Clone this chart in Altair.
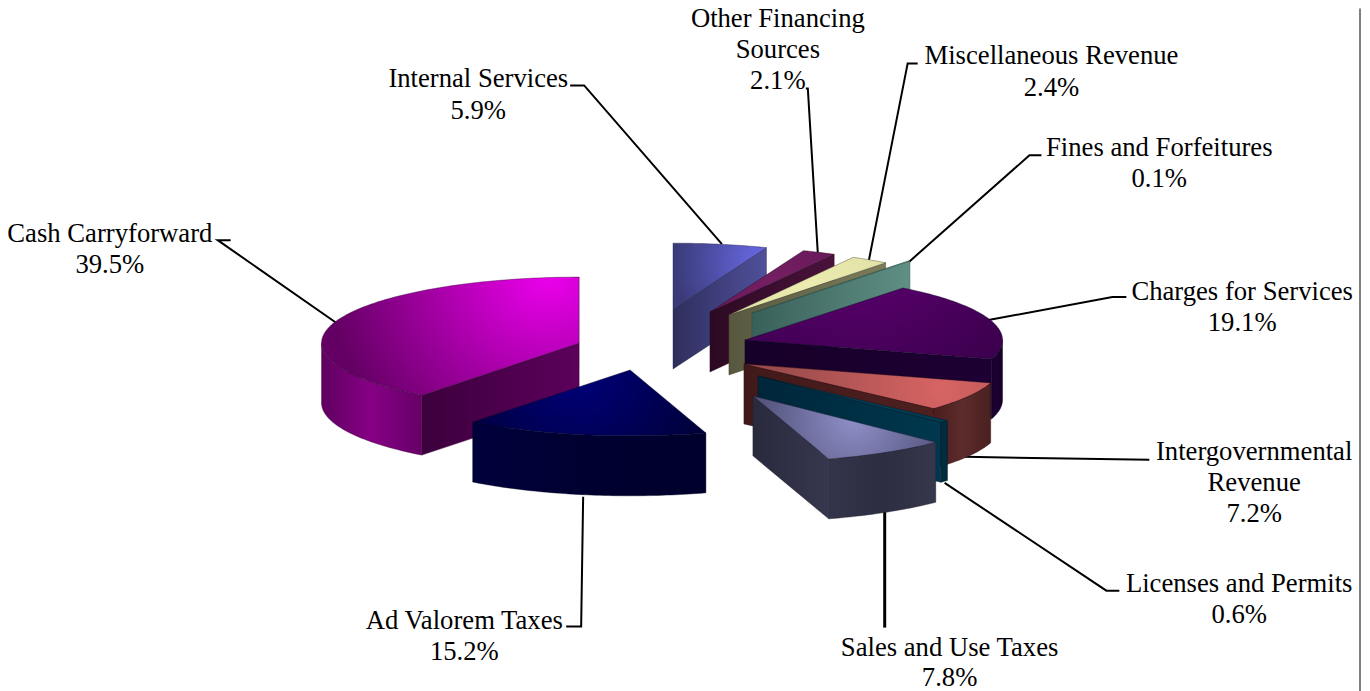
import altair as alt
import numpy as np
import pandas as pd

# ---- chart values -------------------------------------------------------
categories = ["Internal Services", "Other Financing Sources", "Miscellaneous Revenue",
              "Fines and Forfeitures", "Charges for Services", "Intergovernmental Revenue",
              "Licenses and Permits", "Sales and Use Taxes", "Ad Valorem Taxes", "Cash Carryforward"]
shares = [5.9, 2.1, 2.4, 0.1, 19.1, 7.2, 0.6, 7.8, 15.2, 39.5]

# ---- style / layout -----------------------------------------------------
W, H = 1356, 686
RX, RY, DEPTH = 258, 66, 60
apex = {
    "Internal Services": (673, 309), "Other Financing Sources": (710, 312),
    "Miscellaneous Revenue": (729, 315), "Fines and Forfeitures": (752, 313),
    "Charges for Services": (745, 340), "Intergovernmental Revenue": (744, 364),
    "Licenses and Permits": (758, 376), "Sales and Use Taxes": (753, 396),
    "Ad Valorem Taxes": (630, 370), "Cash Carryforward": (579, 343),
}
# top colours (inner, outer), cut-face colours (left, right), outer wall colours (left, mid, right)
colors = {
    "Internal Services": (("#6c6cec", "#3a3a78"), ("#2e2e5c", "#50509c"), None, "#20204a"),
    "Other Financing Sources": (("#741e62", "#5e1654"), ("#2c0a22", "#4a123c"), None, "#200818"),
    "Miscellaneous Revenue": (("#ecec" + "b0", "#d8d8a0"), ("#585840", "#7c7c5c"), None, "#404030"),
    "Fines and Forfeitures": (("#5a8c80", "#5a8c80"), ("#38605a", "#5f8f85"), None, "#2c4c44"),
    "Charges for Services": (("#620076", "#38004a"), ("#160028", "#1e0034"), ("#1a002c", "#1e0034", "#140024"), "#140024"),
    "Intergovernmental Revenue": (("#d86464", "#9c4c4c"), ("#42191a", "#4e2020"), ("#4a1c1c", "#5c2c2c", "#4a2020"), "#2c1010"),
    "Licenses and Permits": (("#00425c", "#003448"), ("#00263a", "#00384e"), ("#002c3e", "#002c3e", "#002c3e"), "#001824"),
    "Sales and Use Taxes": (("#8f8fc8", "#4a4a70"), ("#2a2a3e", "#36364e"), ("#33334a", "#2e2e42", "#36364c"), "#1c1c2c"),
    "Ad Valorem Taxes": (("#00007c", "#000038"), ("#000034", "#00003c"), ("#00003c", "#000030", "#00002c"), "#000020"),
    "Cash Carryforward": (("#ee00ee", "#640064"), ("#3c003c", "#5c005c"), ("#600060", "#860086", "#660066"), "#3c003c"),
}
# centre and reach of each top surface's highlight, as fractions of its box
top_focus = {
    "Internal Services": (1.0, 0.35, 1.0), "Cash Carryforward": (0.88, 0.25, 0.85),
    "Ad Valorem Taxes": (0.45, 0.35, 0.6), "Charges for Services": (0.45, 0.1, 0.8),
    "Intergovernmental Revenue": (0.8, 0.5, 0.65), "Sales and Use Taxes": (0.55, 0.45, 0.6),
}

label_lines = [
    ("Other Financing", 778, 27), ("Sources", 778, 58), ("2.1%", 778, 89),
    ("Miscellaneous Revenue", 1052, 64), ("2.4%", 1052, 96),
    ("Internal Services", 478, 87), ("5.9%", 478, 119),
    ("Fines and Forfeitures", 1160, 156), ("0.1%", 1160, 187),
    ("Cash Carryforward", 109, 242), ("39.5%", 109, 273),
    ("Charges for Services", 1243, 300), ("19.1%", 1243, 331),
    ("Intergovernmental", 1255, 460), ("Revenue", 1255, 491), ("7.2%", 1255, 522),
    ("Licenses and Permits", 1240, 592), ("0.6%", 1240, 623),
    ("Sales and Use Taxes", 950, 656), ("7.8%", 950, 686),
    ("Ad Valorem Taxes", 464, 629), ("15.2%", 464, 660),
]
leaders = [
    ("a", [(570, 85), (584, 85), (722, 244)], 2),
    ("b", [(806, 88), (808, 88), (818, 253)], 2),
    ("c", [(918, 63), (908, 63), (869, 261)], 2),
    ("d", [(1042, 155), (1030, 155), (909, 262)], 2),
    ("e", [(230, 240), (217, 240), (336, 323)], 2),
    ("f", [(1127, 297), (1113, 297), (989, 320)], 2),
    ("g", [(1150, 460), (965, 457)], 2),
    ("h", [(1120, 591), (1107, 591), (945, 483)], 2),
    ("i", [(885, 512), (885, 628)], 3),
    ("j", [(566, 627), (581, 627), (583, 497)], 2),
]

xs = alt.Scale(domain=[7, 7 + W], nice=False, zero=False)
ys = alt.Scale(domain=[8 + H, 8], nice=False, zero=False)


def enc(c):
    return c.encode(x=alt.X("x:Q", scale=xs, axis=None), y=alt.Y("y:Q", scale=ys, axis=None),
                    order=alt.Order("i:Q"))


def lin(*stops):
    n = len(stops) - 1
    return alt.LinearGradient(gradient="linear", x1=0, y1=0, x2=1, y2=0,
                              stops=[alt.GradientStop(offset=k / n, color=c) for k, c in enumerate(stops)])


def rad(fx, fy, reach, inner, outer):
    return alt.RadialGradient(gradient="radial", x1=fx, y1=fy, x2=fx, y2=fy, r1=0, r2=reach,
                              stops=[alt.GradientStop(offset=0, color=inner),
                                     alt.GradientStop(offset=1, color=outer)])


def poly(pts, fill, stroke):
    df = pd.DataFrame({"x": [p[0] for p in pts], "y": [p[1] for p in pts], "i": range(len(pts))})
    return enc(alt.Chart(df).mark_line(interpolate="linear-closed", fill=fill, stroke=stroke,
                                       strokeWidth=0.7, strokeOpacity=0.6))


def rim(cx, cy, a0, a1):
    t = np.radians(np.linspace(a0, a1, max(3, int(abs(a1 - a0)) + 2)))
    return [(cx + RX * np.sin(v), cy - RY * np.cos(v)) for v in t]


total = sum(shares)
edges = np.concatenate([[0], np.cumsum(shares)]) / total * 360.0
layers = []

# leader lines sit behind the pie
for name, pts, w in leaders:
    df = pd.DataFrame({"x": [p[0] for p in pts], "y": [p[1] for p in pts], "i": range(len(pts))})
    layers.append(enc(alt.Chart(df).mark_line(color="black", strokeWidth=w)))

paint = ["Cash Carryforward", "Internal Services", "Other Financing Sources", "Miscellaneous Revenue",
         "Fines and Forfeitures", "Charges for Services", "Intergovernmental Revenue",
         "Licenses and Permits", "Ad Valorem Taxes", "Sales and Use Taxes"]
for name in paint:
    k = categories.index(name)
    a0, a1 = edges[k], edges[k + 1]
    cx, cy = apex[name]
    top, face, wall, line = colors[name]
    # cut faces turned towards the viewer
    for a, vis in ((a1, 0 < a1 < 180), (a0, 180 < a0 < 360)):
        if vis:
            e = rim(cx, cy, a, a)[0]
            pts = [(cx, cy), e, (e[0], e[1] + DEPTH), (cx, cy + DEPTH)]
            layers.append(poly(pts, lin(*face), line))
    # outer wall
    w0, w1 = max(a0, 90), min(a1, 270)
    if w1 > w0:
        r = rim(cx, cy, w0, w1)
        pts = r + [(x, y + DEPTH) for x, y in reversed(r)]
        layers.append(poly(pts, lin(*(wall or (face[0], face[1]))), line))
    # top surface
    pts = [(cx, cy)] + rim(cx, cy, a0, a1)
    fx, fy, reach = top_focus.get(name, (0.5, 0.5, 1.0))
    layers.append(poly(pts, rad(fx, fy, reach, top[0], top[1]), line))

# right page border
layers.append(alt.Chart(pd.DataFrame({"x": [1361]})).mark_rule(color="#7f7f7f", strokeWidth=2).encode(
    x=alt.X("x:Q", scale=xs, axis=None), y=alt.value(0), y2=alt.value(H)))

# labels
txt = pd.DataFrame(label_lines, columns=["t", "x", "y"])
layers.append(alt.Chart(txt).mark_text(font="Liberation Serif", fontSize=26.7, color="black",
                                       align="center", baseline="alphabetic").encode(
    x=alt.X("x:Q", scale=xs, axis=None), y=alt.Y("y:Q", scale=ys, axis=None), text="t:N"))

chart = alt.layer(*layers).properties(
    width=W, height=H, padding=0, background="white",
    autosize=alt.AutoSizeParams(type="none"),
).configure_view(strokeWidth=0)

chart.save("out.html", embed_options={"renderer": "svg", "actions": False})
